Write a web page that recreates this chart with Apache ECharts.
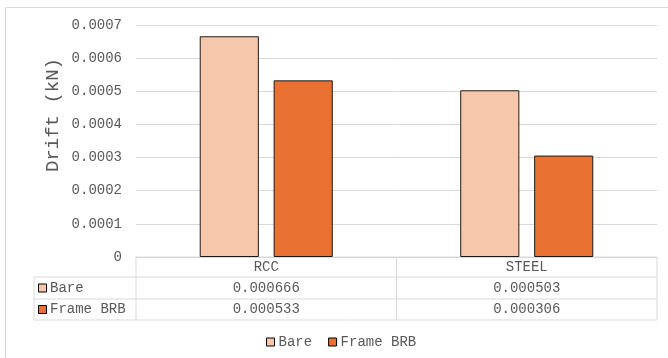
<!DOCTYPE html>
<html>
<head>
<meta charset="utf-8">
<script src="https://cdn.jsdelivr.net/npm/echarts@6/dist/echarts.min.js"></script>
<style>
  html, body { margin: 0; padding: 0; background: #fff; }
  #chart { width: 668px; height: 358px; }
</style>
</head>
<body>
<div id="chart"></div>
<script>
// Drift per structural system, bare frame vs. frame with BRB
const categories = ['RCC', 'STEEL'];
const seriesNames = ['Bare', 'Frame BRB'];
const bareValues = [0.000666, 0.000503];
const brbValues = [0.000533, 0.000306];
const seriesColors = ['#F6C7AB', '#E97132'];
const axisTitle = 'Drift (kN)';

const FONT = 'Liberation Mono';
const TEXT = '#595959';
const LINE = '#D9D9D9';

const GRID = { left: 136, right: 11, top: 25, bottom: 101 };

const chart = echarts.init(document.getElementById('chart'), null, { renderer: 'canvas' });

const valueSets = [bareValues, brbValues];

chart.setOption({
  animation: false,
  backgroundColor: '#fff',
  textStyle: { fontFamily: FONT, color: TEXT },
  grid: GRID,
  legend: {
    top: 330,
    left: 261,
    icon: 'rect',
    itemWidth: 8,
    itemHeight: 8,
    itemGap: 16,
    itemStyle: { borderColor: '#000', borderWidth: 1 },
    textStyle: { fontFamily: FONT, fontSize: 14, color: TEXT, padding: [0, 0, 0, -1] },
    data: seriesNames
  },
  xAxis: {
    type: 'category',
    data: categories,
    axisLine: { lineStyle: { color: LINE } },
    axisTick: { show: false },
    axisLabel: { show: false },
    splitLine: { show: false }
  },
  yAxis: {
    type: 'value',
    min: 0,
    max: 0.0007,
    interval: 0.0001,
    axisLine: { show: false },
    axisTick: { show: false },
    axisLabel: {
      margin: 14,
      fontFamily: FONT,
      fontSize: 14,
      color: TEXT,
      formatter: v => (v === 0 ? '0' : v.toFixed(4))
    },
    splitLine: { lineStyle: { color: LINE } }
  },
  series: seriesNames.map((name, i) => ({
    name,
    type: 'bar',
    data: valueSets[i],
    barWidth: '22.7%',
    barGap: '25%',
    itemStyle: { color: seriesColors[i], borderColor: '#1a1a1a', borderWidth: 1 }
  }))
});

// Data table under the plot: header row with categories, one row per series
function drawTable() {
  const W = chart.getWidth();
  const x0 = GRID.left;
  const x1 = W - GRID.right;
  const yBase = chart.convertToPixel({ yAxisIndex: 0 }, 0);
  const rowH = [20, 22, 21];
  const labelLeft = 34;
  const catW = (x1 - x0) / categories.length;
  const els = [];
  const line = (ax, ay, bx, by) => els.push({
    type: 'line', silent: true,
    shape: { x1: ax, y1: ay, x2: bx, y2: by },
    style: { stroke: LINE, lineWidth: 1 }
  });
  const text = (t, x, y, align) => els.push({
    type: 'text', silent: true,
    style: { text: t, x, y, align: align || 'center', verticalAlign: 'middle',
             font: '14px "' + FONT + '"', fill: TEXT }
  });

  const yH = yBase + rowH[0];
  const yR1 = yH + rowH[1];
  const yR2 = yR1 + rowH[2];

  // horizontal rules
  line(x0, yBase, x1, yBase);
  line(labelLeft, yH, x1, yH);
  line(labelLeft, yR1, x1, yR1);
  line(labelLeft, yR2, x1, yR2);
  // vertical rules
  line(labelLeft, yH, labelLeft, yR2);
  for (let c = 0; c <= categories.length; c++) {
    const xx = x0 + c * catW;
    line(xx, yBase, xx, yR2);
  }
  // header
  categories.forEach(cat => {
    const cx = chart.convertToPixel({ xAxisIndex: 0 }, cat);
    text(cat, cx, (yBase + yH) / 2);
  });
  // rows
  const rowTops = [yH, yR1];
  seriesNames.forEach((name, i) => {
    const cy = rowTops[i] + rowH[i + 1] / 2;
    els.push({
      type: 'rect', silent: true,
      shape: { x: labelLeft + 4.5, y: cy - 4, width: 8, height: 8 },
      style: { fill: seriesColors[i], stroke: '#000', lineWidth: 1 }
    });
    text(name, labelLeft + 16, cy, 'left');
    categories.forEach((cat, c) => {
      const cx = chart.convertToPixel({ xAxisIndex: 0 }, cat);
      text(String(valueSets[i][c]), cx, cy);
    });
  });
  // value axis title
  els.push({
    type: 'text', silent: true,
    x: 53, y: 115, rotation: Math.PI / 2,
    style: { text: axisTitle, align: 'center', verticalAlign: 'middle',
             font: '19px "' + FONT + '"', fill: TEXT }
  });
  // chart border (runs past the right and bottom edges)
  els.push({
    type: 'rect', silent: true,
    shape: { x: 5.5, y: 7.5, width: W, height: 400 },
    style: { fill: null, stroke: LINE, lineWidth: 1 }
  });
  chart.setOption({ graphic: { elements: els } });
}
drawTable();
</script>
</body>
</html>
